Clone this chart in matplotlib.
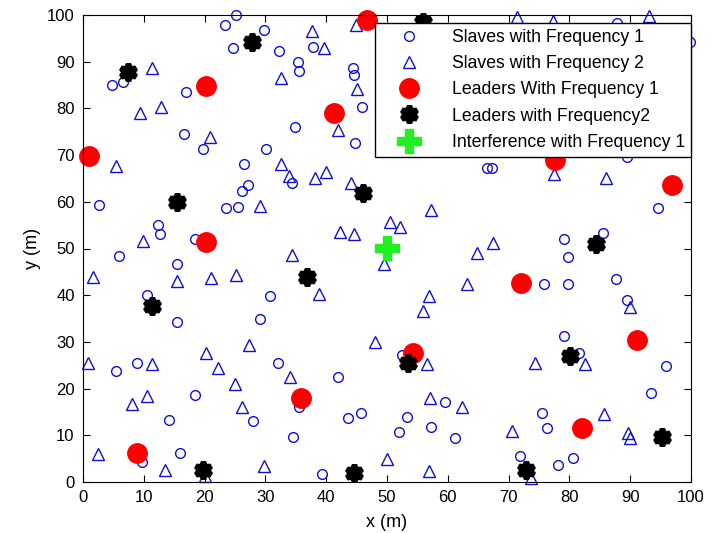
import numpy as np
import matplotlib.pyplot as plt

plt.rcParams['font.family'] = ['Liberation Sans', 'DejaVu Sans']

# slaves, frequency 1 (open circles)
s1_x = [4.8, 6.6, 16.9, 16.6, 19.7, 23.4, 25.1, 24.7, 26.4, 29.8, 32.2, 37.8, 35.4, 35.6,
        44.4, 44.6, 45.9, 44.7, 34.9, 30.1, 87.8, 99.8, 66.4, 67.3, 89.4,
        2.7, 12.4, 12.7, 18.4, 5.9, 15.4, 10.5, 15.4, 23.5, 25.5, 26.1, 27.2, 34.4,
        30.8, 29.1, 94.6, 85.5, 79.1, 79.8, 75.8, 79.8, 87.7, 89.5, 79.1,
        5.5, 8.8, 18.5, 14.2, 9.7, 16.0,
        52.5, 32.1, 42.0, 35.5, 27.9, 43.6, 45.7, 59.5, 53.3, 52.0, 57.2, 61.2, 34.5, 39.3,
        81.6, 95.9, 93.4, 75.5, 76.3, 71.9, 80.6, 78.1]
s1_y = [85.0, 85.7, 83.6, 74.5, 71.3, 97.9, 100.0, 92.9, 68.1, 96.8, 92.3, 93.2, 89.9, 88.0,
        88.6, 87.2, 80.3, 72.6, 76.0, 71.3, 98.2, 94.2, 67.2, 67.2, 69.7,
        59.3, 55.0, 53.1, 52.0, 48.4, 46.7, 40.0, 34.3, 58.7, 58.9, 62.3, 63.6, 64.0,
        39.8, 34.9, 58.7, 53.3, 52.0, 48.2, 42.4, 42.4, 43.5, 39.0, 31.3,
        23.8, 25.5, 18.6, 13.3, 4.3, 6.2,
        27.2, 25.5, 22.5, 16.1, 13.1, 13.7, 14.8, 17.1, 13.9, 10.7, 11.8, 9.4, 9.6, 1.7,
        27.6, 24.8, 19.1, 14.8, 11.6, 5.6, 5.1, 3.6]

# slaves, frequency 2 (open triangles)
s2_x = [11.4, 9.4, 12.8, 20.9, 5.4, 37.7, 39.6, 32.6, 44.9, 45.0, 41.9, 32.6, 40.0, 33.8,
        38.2, 44.1, 29.1, 71.4, 77.3, 93.1, 77.5, 86.0,
        9.8, 1.7, 15.4, 21.0, 25.1,
        57.2, 50.5, 52.1, 42.3, 44.6, 49.5, 34.4, 38.8, 56.9, 55.9, 63.2, 48.1,
        67.4, 64.8, 90.0,
        0.9, 11.4, 20.3, 22.2, 25.0, 26.2, 10.5, 8.0, 2.4, 13.5, 20.0,
        27.3, 56.6, 34.0, 57.1, 62.4, 29.8, 50.0, 56.9,
        82.6, 74.3, 85.7, 70.6, 89.6, 90.0, 73.7]
s2_y = [88.7, 79.0, 80.3, 73.9, 67.7, 96.6, 93.0, 86.5, 97.9, 84.1, 75.4, 68.1, 66.4, 65.5,
        65.2, 64.0, 59.1, 99.6, 98.7, 99.8, 66.0, 65.2,
        51.6, 44.0, 43.1, 43.7, 44.3,
        58.2, 55.7, 54.6, 53.5, 53.1, 46.7, 48.6, 40.3, 39.8, 36.6, 42.4, 29.9,
        51.2, 49.0, 37.5,
        25.5, 25.3, 27.6, 24.4, 21.0, 16.1, 18.4, 16.7, 6.0, 2.6, 1.3,
        29.3, 25.3, 22.5, 18.0, 16.1, 3.4, 4.9, 2.4,
        25.3, 25.5, 14.6, 10.9, 10.5, 9.4, 0.9]

# leaders, frequency 1 (red)
l1_x = [20.2, 1.0, 46.7, 41.3, 77.6, 96.9, 20.2, 72.0, 91.1, 8.8, 54.3, 35.8, 82.1]
l1_y = [84.8, 69.8, 98.9, 79.0, 69.0, 63.6, 51.4, 42.6, 30.5, 6.2, 27.6, 18.0, 11.6]

# leaders, frequency 2 (black)
l2_x = [7.4, 27.8, 55.9, 15.4, 11.3, 46.1, 36.8, 84.4, 19.7, 53.5, 44.6, 80.1, 95.2, 72.9]
l2_y = [87.8, 94.2, 98.5, 60.0, 37.7, 61.9, 43.9, 51.0, 2.6, 25.5, 1.9, 27.0, 9.6, 2.6]

# interference
int_x = [50.0]
int_y = [50.1]

fig = plt.figure(figsize=(7.17, 5.33), dpi=100)
ax = fig.add_axes([83/717, 51/533, 608/717, 467/533])

blue = '#1010d0'
ax.plot(s1_x, s1_y, 'o', ms=7, mfc='none', mec=blue, mew=1.0, ls='none',
        clip_on=False, label='Slaves with Frequency 1')
ax.plot(s2_x, s2_y, '^', ms=9, mfc='none', mec=blue, mew=1.0, ls='none',
        clip_on=False, label='Slaves with Frequency 2')
ax.plot(l1_x, l1_y, 'o', ms=14, mfc='#ff0000', mec='#ff0000', ls='none',
        clip_on=False, label='Leaders With Frequency 1')
ax.plot(l2_x, l2_y, marker=(6, 1, 0), ms=12, mfc='k', mec='k', mew=4, ls='none',
        clip_on=False, label='Leaders with Frequency2')
ax.plot(int_x, int_y, 'P', ms=17, mfc='#22ee22', mec='#22ee22', ls='none',
        clip_on=False, label='Interference with Frequency 1')

ax.set_xlim(0, 100)
ax.set_ylim(0, 100)
ax.set_xticks(np.arange(0, 101, 10))
ax.set_yticks(np.arange(0, 101, 10))
ax.tick_params(direction='in', length=5, top=True, right=True, labelsize=12, pad=6)
ax.set_xlabel('x (m)', fontsize=13, labelpad=6)
ax.set_ylabel('y (m)', fontsize=13)

leg = ax.legend(loc='upper right', bbox_to_anchor=(1.0, 0.983), borderaxespad=0,
                fancybox=False, edgecolor='k', framealpha=1, fontsize=12.7,
                labelspacing=0.52, handlelength=3.2, borderpad=0.35)
leg.get_frame().set_linewidth(1.0)
leg.set_zorder(10)

fig.savefig('out.png', dpi=100)
